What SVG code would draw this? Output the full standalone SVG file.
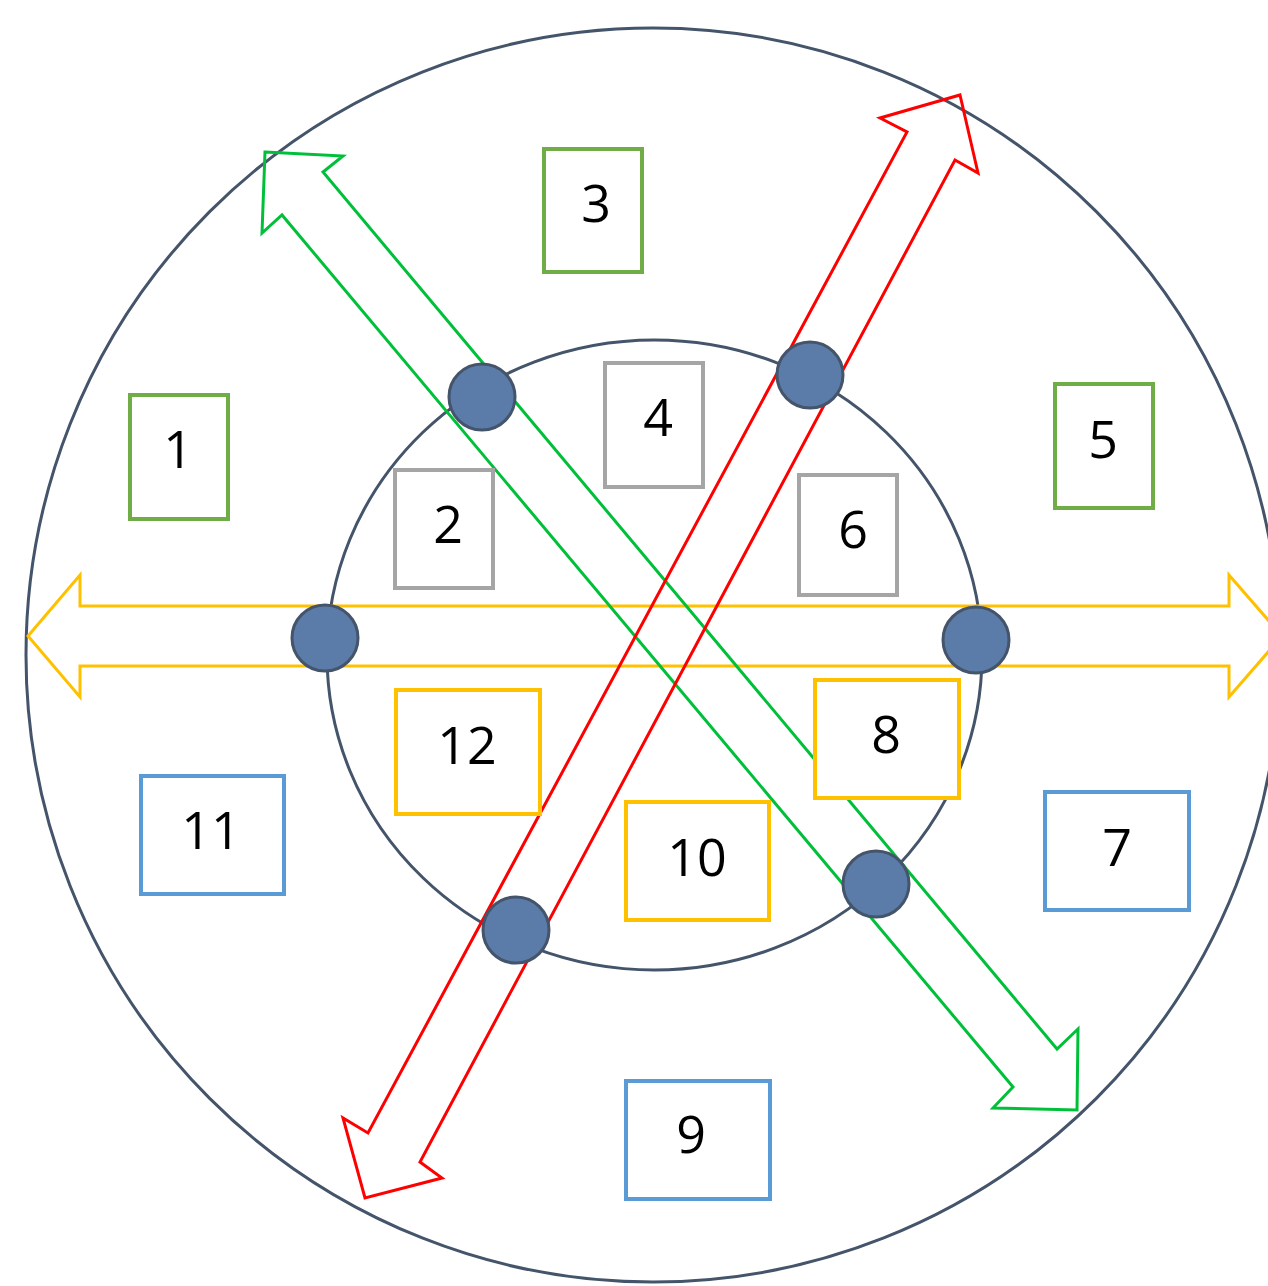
<svg xmlns="http://www.w3.org/2000/svg" width="1268" height="1286" viewBox="0 0 1268 1286">
<style>
.ring{fill:none;stroke:#44546a;stroke-width:3}
.arr{fill:none;stroke-width:3;stroke-linejoin:miter}
.dot{fill:#5b7ba8;stroke:#44546a;stroke-width:3}
.box{fill:#fff;stroke-width:4}
.g{stroke:#70ad47}.s{stroke:#a5a5a5}.y{stroke:#ffc000}.b{stroke:#5b9bd5}
text{font-family:"Open Sans","Liberation Sans",sans-serif;font-size:52px;fill:#000;text-anchor:middle}
</style>
<rect width="1268" height="1286" fill="#fff"/>
<g id="rings">
<circle class="ring" cx="653" cy="655" r="627"/>
<ellipse class="ring" cx="654.5" cy="655" rx="327.5" ry="315"/>
</g>
<g id="connectors">
<polygon id="arrow-yellow" class="arr" stroke="#ffc000" points="28,636 80,575 80,606 1229,606 1229,575 1282,636 1229,697 1229,666 80,666 80,697"/>
<polygon id="arrow-green" class="arr" stroke="#00c03a" points="265,152 343,156 323,172 1057,1049 1078,1029 1077,1110 993,1108 1013,1087 282,215 262,233"/>
<polygon id="arrow-red" class="arr" stroke="#ff0000" points="960,95 978,173 955,160 420,1162 442,1178 365,1198 343,1118 368,1133 907,132 880,118"/>
</g>
<g id="dots">
<circle class="dot" cx="482" cy="397" r="33"/>
<circle class="dot" cx="810" cy="375" r="33"/>
<circle class="dot" cx="325" cy="638" r="33"/>
<circle class="dot" cx="976" cy="640" r="33"/>
<circle class="dot" cx="516" cy="930" r="33"/>
<circle class="dot" cx="876" cy="884" r="33"/>
</g>
<g id="n1"><rect class="box g" x="130" y="395" width="98" height="124"/><text x="178" y="468">1</text></g>
<g id="n2"><rect class="box s" x="395" y="470" width="98" height="118"/><text x="448" y="543">2</text></g>
<g id="n3"><rect class="box g" x="544" y="149" width="98" height="123"/><text x="596" y="222">3</text></g>
<g id="n4"><rect class="box s" x="605" y="363" width="98" height="124"/><text x="658" y="436">4</text></g>
<g id="n5"><rect class="box g" x="1055" y="384" width="98" height="124"/><text x="1103" y="458">5</text></g>
<g id="n6"><rect class="box s" x="799" y="475" width="98" height="120"/><text x="853" y="548">6</text></g>
<g id="n7"><rect class="box b" x="1045" y="792" width="144" height="118"/><text x="1117" y="866">7</text></g>
<g id="n8"><rect class="box y" x="815" y="680" width="144" height="118"/><text x="886" y="753">8</text></g>
<g id="n9"><rect class="box b" x="626" y="1081" width="144" height="118"/><text x="691" y="1153">9</text></g>
<g id="n10"><rect class="box y" x="626" y="802" width="143" height="118"/><text x="697" y="876">10</text></g>
<g id="n11"><rect class="box b" x="141" y="776" width="143" height="118"/><text x="211" y="849">11</text></g>
<g id="n12"><rect class="box y" x="396" y="690" width="144" height="124"/><text x="467" y="764">12</text></g>
</svg>
